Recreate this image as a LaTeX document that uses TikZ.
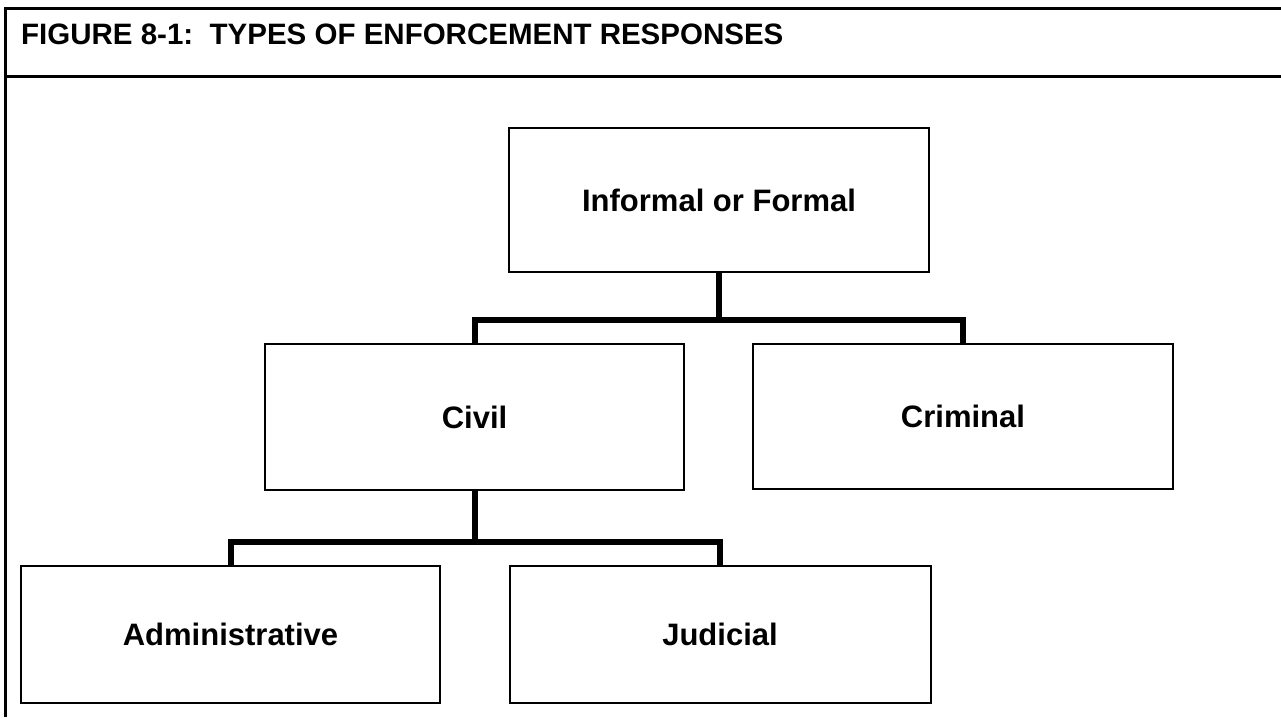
\documentclass[tikz,border=0pt]{standalone}
\usepackage{fontspec}
\setmainfont{Liberation Sans}
\begin{document}
\begin{tikzpicture}[x=1pt,y=-1pt,
  box/.style={draw=black, line width=2pt, rectangle, inner sep=0pt, font=\fontsize{31}{36}\selectfont\bfseries},
  conn/.style={draw=black, line width=6pt, line join=miter, line cap=butt},
  frame/.style={draw=black, line width=3pt}]
\useasboundingbox (0,0) rectangle (1281,717);
% frame
\draw[frame] (5.5,717) -- (5.5,8.5) -- (1282,8.5);
\draw[frame] (5.5,76) -- (1282,76);
\node[anchor=base west, inner sep=0pt, font=\fontsize{29.5}{34}\selectfont\bfseries] (title) at (21,45) {FIGURE 8-1:\ \ TYPES OF ENFORCEMENT RESPONSES};
% nodes
\node[box, minimum width=420pt, minimum height=144pt] (top) at (719,200) {Informal or Formal};
\node[box, minimum width=419pt, minimum height=146pt] (civil) at (474.5,417) {Civil};
\node[box, minimum width=420pt, minimum height=145pt] (criminal) at (963,416.5) {Criminal};
\node[box, minimum width=419pt, minimum height=137pt] (admin) at (230.5,634.5) {Administrative};
\node[box, minimum width=421pt, minimum height=137pt] (judicial) at (720,634.5) {Judicial};
% connectors
\coordinate (j1) at (719,320);
\coordinate (j2) at (474.5,542);
\draw[conn] (top.south) -- (j1);
\draw[conn] (civil.north) |- (j1) -| (criminal.north);
\draw[conn] (civil.south) -- (j2);
\draw[conn] (admin.north) |- (j2) -| (judicial.north);
\end{tikzpicture}
\end{document}
